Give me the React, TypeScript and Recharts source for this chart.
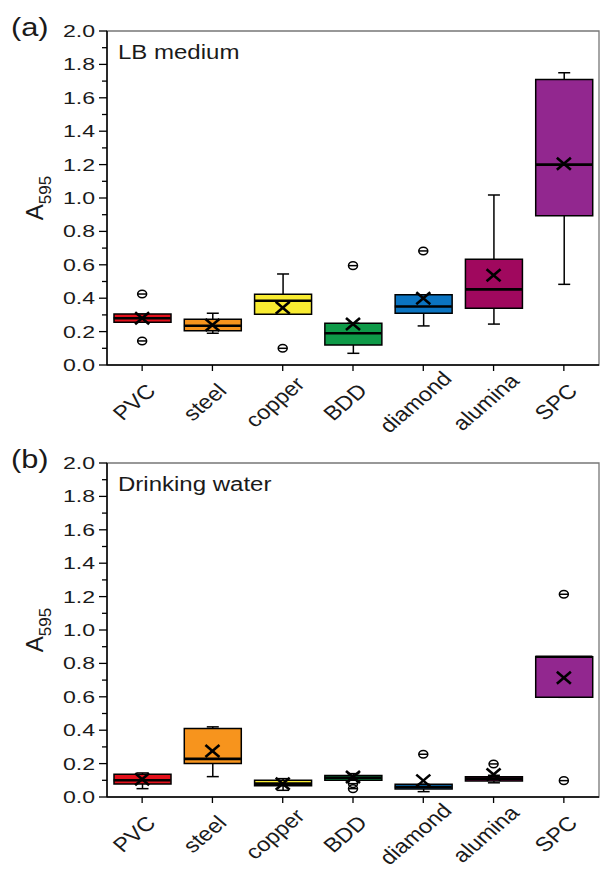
import { ComposedChart, Bar, Scatter, XAxis, YAxis, Cell, ReferenceArea } from "recharts"

// ─── Data ──────────────────────────────────────────────────────────────────────

const CATEGORIES = ["PVC", "steel", "copper", "BDD", "diamond", "alumina", "SPC"]
const Y_TICKS = [0, 0.1, 0.2, 0.3, 0.4, 0.5, 0.6, 0.7, 0.8, 0.9, 1, 1.1, 1.2, 1.3, 1.4, 1.5, 1.6, 1.7, 1.8, 1.9, 2]

// (a) LB medium
const LB_Q1 = [0.256, 0.205, 0.304, 0.12, 0.31, 0.34, 0.894]
const LB_Q3 = [0.305, 0.274, 0.423, 0.25, 0.42, 0.633, 1.71]
const LB_MEDIAN = [0.28, 0.235, 0.385, 0.19, 0.35, 0.453, 1.2]
const LB_MEAN = [0.28, 0.24, 0.343, 0.245, 0.4, 0.537, 1.205]
const LB_LOW = [0.256, 0.19, 0.304, 0.07, 0.234, 0.245, 0.483]
const LB_HIGH = [0.305, 0.31, 0.545, 0.25, 0.42, 1.018, 1.75]
const LB_OUT_A = [0.425, null, 0.1, 0.595, 0.683, null, null]
const LB_OUT_B = [0.144, null, null, null, null, null, null]

// (b) Drinking water
const DW_Q1 = [0.078, 0.2, 0.068, 0.1, 0.048, 0.096, 0.597]
const DW_Q3 = [0.136, 0.41, 0.1, 0.128, 0.076, 0.122, 0.84]
const DW_MEDIAN = [0.1, 0.228, 0.08, 0.115, 0.06, 0.11, 0.84]
const DW_MEAN = [0.106, 0.275, 0.08, 0.12, 0.098, 0.135, 0.714]
const DW_LOW = [0.05, 0.122, 0.04, 0.1, 0.032, 0.085, 0.597]
const DW_HIGH = [0.144, 0.42, 0.11, 0.14, 0.076, 0.13, 0.84]
const DW_OUT_A = [null, null, null, 0.08, 0.256, 0.198, 1.214]
const DW_OUT_B = [null, null, null, 0.05, null, null, 0.098]

// ─── Style ─────────────────────────────────────────────────────────────────────

const COLORS = ["#e3101b", "#f7941d", "#f9ec31", "#0e9a48", "#0b74c1", "#a0085e", "#92278f"]
const FONT = "'Liberation Sans', Arial, Helvetica, sans-serif"
const BOX_W = 57

type Num = number | null

function buildRows(q1: number[], q3: number[], med: number[], mean: number[], lo: number[], hi: number[], outA: Num[], outB: Num[]) {
    return CATEGORIES.map((name, i) => ({
        name,
        box: [q1[i], q3[i]],
        whisk: [lo[i], hi[i]],
        median: med[i],
        mean: mean[i],
        outA: outA[i],
        outB: outB[i],
    }))
}

const LB_ROWS = buildRows(LB_Q1, LB_Q3, LB_MEDIAN, LB_MEAN, LB_LOW, LB_HIGH, LB_OUT_A, LB_OUT_B)
const DW_ROWS = buildRows(DW_Q1, DW_Q3, DW_MEDIAN, DW_MEAN, DW_LOW, DW_HIGH, DW_OUT_A, DW_OUT_B)

// ─── Shapes ────────────────────────────────────────────────────────────────────

function Whisker(props: any) {
    const { x, y, width, height } = props
    if (x == null || y == null) return <g />
    const cx = x + width / 2
    return (
        <g stroke="#000" strokeWidth={1.5}>
            <line x1={cx} x2={cx} y1={y} y2={y + height} />
            <line x1={cx - 6} x2={cx + 6} y1={y} y2={y} />
            <line x1={cx - 6} x2={cx + 6} y1={y + height} y2={y + height} />
        </g>
    )
}

const ok = (v: any) => typeof v === "number" && Number.isFinite(v)

function MedianLine(props: any) {
    const { cx, cy } = props
    if (!ok(cx) || !ok(cy)) return <g />
    return <line x1={cx - BOX_W / 2} x2={cx + BOX_W / 2} y1={cy} y2={cy} stroke="#000" strokeWidth={2.6} />
}

function MeanCross(props: any) {
    const { cx, cy } = props
    if (!ok(cx) || !ok(cy)) return <g />
    return (
        <g stroke="#000" strokeWidth={2.6}>
            <line x1={cx - 7} x2={cx + 7} y1={cy - 6} y2={cy + 6} />
            <line x1={cx - 7} x2={cx + 7} y1={cy + 6} y2={cy - 6} />
        </g>
    )
}

function Outlier(props: any) {
    const { cx, cy, payload, dataKey } = props
    if (!ok(cx) || !ok(cy)) return <g />
    if (payload && dataKey && payload[dataKey] == null) return <g />
    return (
        <g stroke="#000" strokeWidth={1.5} fill="none">
            <ellipse cx={cx} cy={cy} rx={4.5} ry={3.8} />
            <line x1={cx - 4.5} x2={cx + 4.5} y1={cy} y2={cy} />
        </g>
    )
}

function YTick(props: any) {
    const { x, y, payload } = props
    const major = Math.round(payload.value * 10) % 2 === 0
    return (
        <g>
            <line x1={x - (major ? 8 : 5)} x2={x} y1={y} y2={y} stroke="#000" strokeWidth={1.3} />
            {major && (
                <text
                    transform={`translate(${x - 12},${y}) scale(1.4,1)`}
                    textAnchor="end"
                    dy="0.36em"
                    fontSize={16.5}
                    fontFamily={FONT}
                    fill="#1a1a1a"
                >
                    {payload.value.toFixed(1)}
                </text>
            )}
        </g>
    )
}

function XTick(props: any) {
    const { x, y, payload } = props
    return (
        <g>
            <line x1={x} x2={x} y1={y} y2={y + 6} stroke="#000" strokeWidth={1.3} />
            <text
                transform={`translate(${x - 8},${y + 37}) scale(1.18,1) rotate(-45)`}
                textAnchor="middle"
                dy="0.35em"
                fontSize={20}
                fontFamily={FONT}
                fill="#1a1a1a"
            >
                {payload.value}
            </text>
        </g>
    )
}

function YTitle(props: any) {
    const vb = props.viewBox || { x: 47, y: 0, width: 60, height: 0 }
    const bx = vb.x - 4
    const cy = vb.y + vb.height / 2
    return (
        <text transform={`translate(${bx},${cy}) rotate(-90)`} textAnchor="middle" fontFamily={FONT} fill="#1a1a1a">
            <tspan fontSize={24}>A</tspan>
            <tspan fontSize={17} dy={8}>595</tspan>
        </text>
    )
}

// ─── Panel ─────────────────────────────────────────────────────────────────────

type PanelProps = {
    rows: ReturnType<typeof buildRows>
    letter: string
    title: string
    height: number
    top: number
    bottom: number
}

function Panel({ rows, letter, title, height, top, bottom }: PanelProps) {
    return (
        <div style={{ position: "relative", width: 600, height }}>
            <ComposedChart width={600} height={height} data={rows} margin={{ top, right: 1, bottom, left: 47 }}>
                <ReferenceArea y1={0} y2={2} fill="none" stroke="#777" strokeWidth={1.3} />
                <XAxis
                    dataKey="name"
                    type="category"
                    interval={0}
                    height={60}
                    tickSize={0}
                    tickMargin={0}
                    tickLine={false}
                    axisLine={{ stroke: "#000", strokeWidth: 1.5 }}
                    tick={(p: any) => <XTick {...p} />}
                />
                <XAxis xAxisId="w" dataKey="name" type="category" hide />
                <YAxis
                    type="number"
                    domain={[0, 2]}
                    ticks={Y_TICKS}
                    interval={0}
                    width={60}
                    tickSize={0}
                    tickMargin={0}
                    tickLine={false}
                    axisLine={{ stroke: "#000", strokeWidth: 1.5 }}
                    tick={(p: any) => <YTick {...p} />}
                    label={{ content: (p: any) => <YTitle {...p} /> }}
                />
                <Bar xAxisId="w" dataKey="whisk" barSize={BOX_W} shape={(p: any) => <Whisker {...p} />} isAnimationActive={false} />
                <Bar dataKey="box" barSize={BOX_W} stroke="#000" strokeWidth={1.5} isAnimationActive={false}>
                    {rows.map((r, i) => (
                        <Cell key={r.name} fill={COLORS[i]} />
                    ))}
                </Bar>
                <Scatter dataKey="median" shape={(p: any) => <MedianLine {...p} />} isAnimationActive={false} />
                <Scatter dataKey="mean" shape={(p: any) => <MeanCross {...p} />} isAnimationActive={false} />
                <Scatter dataKey="outA" shape={(p: any) => <Outlier {...p} dataKey="outA" />} isAnimationActive={false} />
                <Scatter dataKey="outB" shape={(p: any) => <Outlier {...p} dataKey="outB" />} isAnimationActive={false} />
            </ComposedChart>
            <div
                style={{
                    position: "absolute",
                    left: 11,
                    top: top - 16,
                    fontFamily: FONT,
                    fontSize: 25,
                    lineHeight: 1,
                    color: "#1a1a1a",
                    transform: "scaleX(1.23)",
                    transformOrigin: "left top",
                    whiteSpace: "nowrap",
                }}
            >
                {letter}
            </div>
            <div
                style={{
                    position: "absolute",
                    left: 118,
                    top: top + 11,
                    fontFamily: FONT,
                    fontSize: 20,
                    lineHeight: 1,
                    color: "#1a1a1a",
                    transform: "scaleX(1.2)",
                    transformOrigin: "left top",
                    whiteSpace: "nowrap",
                }}
            >
                {title}
            </div>
        </div>
    )
}

export default function App() {
    return (
        <div style={{ position: "absolute", left: 0, top: 0, width: 600, height: 870, background: "#fff" }}>
            <Panel rows={LB_ROWS} letter="(a)" title="LB medium" height={450} top={31} bottom={25} />
            <Panel rows={DW_ROWS} letter="(b)" title="Drinking water" height={420} top={13} bottom={13} />
        </div>
    )
}
